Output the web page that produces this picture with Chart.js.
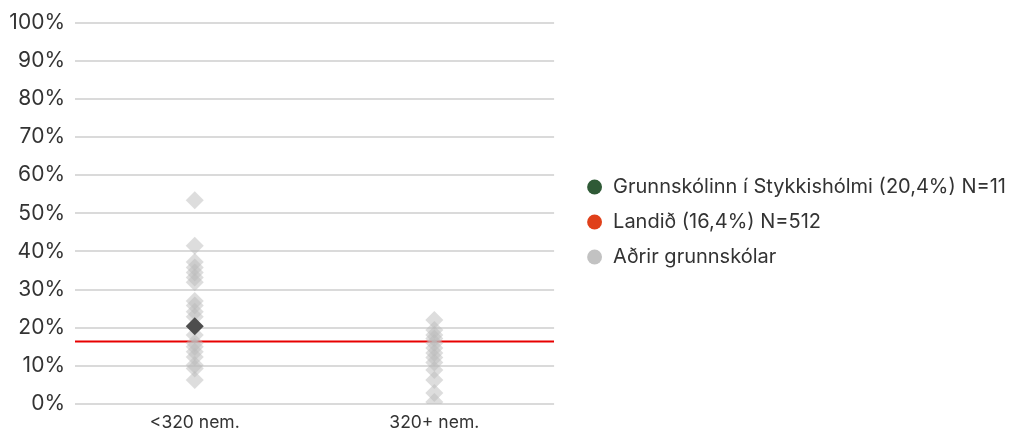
<!DOCTYPE html>
<html><head><meta charset="utf-8">
<script src="https://cdn.jsdelivr.net/npm/chart.js@4"></script>
<style>html,body{margin:0;padding:0;background:#fff;overflow:hidden}#wrap{width:1010px;height:431px}</style>
</head><body><div id="wrap"><canvas id="c" width="1010" height="431"></canvas></div>
<script>
const categories = ['<320 nem.', '320+ nem.'];
const yTicks = [0, 10, 20, 30, 40, 50, 60, 70, 80, 90, 100];
const othersSmall = [53.4, 41.5, 37.2, 35.8, 34.5, 33.2, 31.9, 27.0, 25.8, 24.2, 22.9, 18.1, 16.0, 15.0, 13.7, 12.3, 10.2, 9.3, 6.3];
const othersLarge = [22.0, 19.4, 18.1, 17.2, 16.0, 14.7, 13.4, 12.2, 10.9, 8.9, 6.3, 2.9, 0.5];
const schoolCategory = '<320 nem.';
const schoolValue = 20.4;
const landidValue = 16.4;
const legendTexts = ['Grunnskólinn í Stykkishólmi (20,4%) N=11', 'Landið (16,4%) N=512', 'Aðrir grunnskólar'];
const legendColors = ['#2f5a36', '#e0401a', '#c2c2c2'];

const FONT = 'Inter';
const TXT = '#333333';

const othersData = othersSmall.map(v => ({x: categories[0], y: v}))
  .concat(othersLarge.map(v => ({x: categories[1], y: v})));

new Chart(document.getElementById('c'), {
  type: 'line',
  data: {
    labels: categories,
    datasets: [
      {
        label: legendTexts[0],
        data: [{x: schoolCategory, y: schoolValue}],
        showLine: false,
        pointStyle: 'rectRot',
        pointRadius: 9,
        pointBackgroundColor: '#4d4d4d',
        pointBorderWidth: 0,
        borderWidth: 0
      },
      {
        label: legendTexts[2],
        data: othersData,
        showLine: false,
        pointStyle: 'rectRot',
        pointRadius: 9,
        pointBackgroundColor: 'rgba(187,187,187,0.5)',
        pointBorderWidth: 0,
        borderWidth: 0
      },
      {
        label: legendTexts[1],
        data: [{x: 0, y: landidValue}, {x: 1, y: landidValue}],
        xAxisID: 'x2',
        borderColor: '#e80000',
        borderWidth: 2,
        pointRadius: 0
      }
    ]
  },
  options: {
    responsive: false,
    animation: false,
    layout: {padding: {top: 22, bottom: 0, left: 0, right: -6}},
    scales: {
      x: {
        type: 'category',
        offset: true,
        grid: {display: false},
        border: {display: false},
        ticks: {color: TXT, font: {family: FONT, size: 17.5}, padding: 0},
        afterFit: s => { s.height = 27; }
      },
      x2: {type: 'linear', min: 0, max: 1, display: false},
      y: {
        min: 0, max: 100,
        afterBuildTicks: s => { s.ticks = yTicks.map(v => ({value: v})); },
        ticks: {color: TXT, font: {family: FONT, size: 21}, padding: 10, callback: v => v + '%'},
        grid: {color: '#dadada', lineWidth: 2, drawTicks: false},
        border: {display: false},
        afterFit: s => { s.width = 75; }
      },
      y2: {
        type: 'linear', position: 'right', display: true,
        grid: {display: false}, border: {display: false}, ticks: {display: false},
        afterFit: s => { s.width = 17; }
      }
    },
    plugins: {
      tooltip: {enabled: false},
      legend: {
        position: 'right',
        align: 'center',
        fullSize: false,
        maxWidth: 480,
        title: {display: true, text: ' ', font: {size: 10}, padding: {top: 2.7, bottom: 2.7}},
        labels: {
          usePointStyle: true,
          boxWidth: 17,
          boxHeight: 10.5,
          padding: 15,
          color: TXT,
          font: {family: FONT, size: 20},
          generateLabels: () => legendTexts.map((t, i) => ({
            text: t, fillStyle: legendColors[i], strokeStyle: legendColors[i],
            lineWidth: 0, pointStyle: 'circle', hidden: false, fontColor: TXT, datasetIndex: i
          }))
        }
      }
    }
  }
});
</script></body></html>
